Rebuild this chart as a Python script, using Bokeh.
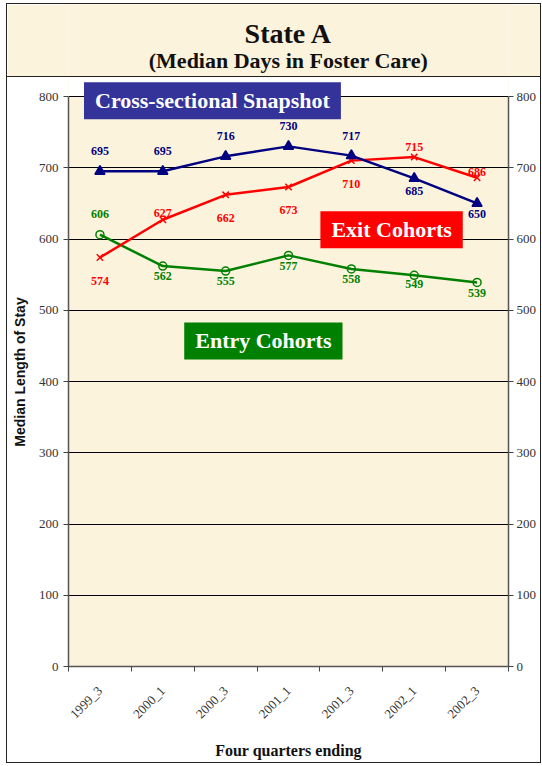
from bokeh.plotting import figure
from bokeh.layouts import column
from bokeh.models import Range1d, FixedTicker, LinearAxis, Label, ColumnDataSource, BoxAnnotation
from bokeh.core.properties import value
from bokeh.embed import file_html
from bokeh.resources import INLINE

# ---------------- data ----------------
quarters = ["1999_3", "2000_1", "2000_3", "2001_1", "2001_3", "2002_1", "2002_3"]
cross_sectional = [695, 695, 716, 730, 717, 685, 650]
exit_cohorts = [574, 627, 662, 673, 710, 715, 686]
entry_cohorts = [606, 562, 555, 577, 558, 549, 539]
y_ticks = [0, 100, 200, 300, 400, 500, 600, 700, 800]
y_max = 800

# label placement (pixels, positive = below the point)
cross_off = [-20, -20, -20, -20, -20, 13, 11]
exit_off = [23, -7, 23, 23, 23, -10, -6]
entry_off = [-21, 10, 10, 11, 10, 9, 11]

PARCH = "#FCF3DC"
SERIF = "Liberation Serif"

xs = [i + 0.5 for i in range(len(quarters))]

# ---------------- title panel ----------------
tfig = figure(width=535, height=74, x_range=Range1d(0, 1), y_range=Range1d(0, 74),
              toolbar_location=None, output_backend="svg", min_border=0,
              x_axis_location=None, y_axis_location=None)
tfig.grid.visible = False
tfig.background_fill_color = PARCH
tfig.border_fill_color = PARCH
tfig.outline_line_color = None
tfig.styles = {"border": "1px solid #222"}
tfig.text(x=[0.5], y=[45], text=["State A"], text_font=value(SERIF), text_font_style="bold",
          text_font_size="28px", text_align="center", text_baseline="middle", text_color="#111")
tfig.text(x=[0.5], y=[18], text=["(Median Days in Foster Care)"], text_font=value(SERIF),
          text_font_style="bold", text_font_size="22px", text_align="center",
          text_baseline="middle", text_color="#111")

# ---------------- main chart ----------------
# frame spans 570 px for 0..800; extend the top a little so the snapshot box is not clipped
FRAME_H = 589
y_top = y_max * FRAME_H / 570.0
p = figure(width=535, height=686, x_range=Range1d(0, len(quarters)), y_range=Range1d(0, y_top),
           toolbar_location=None, output_backend="svg",
           min_border_left=61, min_border_right=34, min_border_top=0, min_border_bottom=97)
p.background_fill_color = PARCH
p.border_fill_color = "white"
p.outline_line_color = None
p.styles = {"border-left": "1px solid #222", "border-right": "1px solid #222",
            "border-bottom": "1px solid #222"}
p.add_layout(BoxAnnotation(bottom=y_max, fill_color="white", fill_alpha=1.0,
                           line_color=None, level="image"))

yt = FixedTicker(ticks=y_ticks)
p.yaxis.ticker = yt
p.ygrid.ticker = yt
p.ygrid.grid_line_color = "black"
p.ygrid.grid_line_width = 1
p.xgrid.visible = False

xt = FixedTicker(ticks=xs, minor_ticks=list(range(len(quarters) + 1)))
p.xaxis.ticker = xt
p.xaxis.major_label_overrides = {x: q for x, q in zip(xs, quarters)}
p.xaxis.major_tick_line_color = None
p.xaxis.minor_tick_line_color = "#444"
p.xaxis.minor_tick_in = 0
p.xaxis.minor_tick_out = 5
p.xaxis.major_label_orientation = 0.785398
p.xaxis.major_label_standoff = 16
p.xaxis.major_label_text_font = SERIF
p.xaxis.major_label_text_font_size = "13px"
p.xaxis.major_label_text_color = "#333"
p.xaxis.axis_label = "Four quarters ending"
p.xaxis.axis_label_text_font = SERIF
p.xaxis.axis_label_text_font_style = "bold"
p.xaxis.axis_label_text_font_size = "16px"
p.xaxis.axis_label_text_color = "#111"
p.xaxis.axis_label_standoff = 12

p.yaxis.axis_label = "Median Length of Stay"
p.yaxis.axis_label_text_font = "Liberation Sans"
p.yaxis.axis_label_text_font_style = "bold"
p.yaxis.axis_label_text_font_size = "14px"
p.yaxis.axis_label_text_color = "#111"
p.yaxis.axis_label_standoff = 8

ra = LinearAxis(ticker=yt)
p.add_layout(ra, "right")

for ax in [p.yaxis[0], ra]:
    ax.bounds = (0, y_max)
    ax.major_label_text_font = SERIF
    ax.major_label_text_font_size = "13px"
    ax.major_label_text_color = "#333"
    ax.minor_tick_line_color = None
    ax.major_tick_in = 0
    ax.major_tick_out = 5
    ax.major_tick_line_color = "#444"
    ax.axis_line_color = "#555"
    ax.axis_line_width = 1.5
ra.major_label_standoff = 3
p.xaxis.axis_line_color = "#555"
p.xaxis.axis_line_width = 1.5

NAVY, RED, GREEN = "#000080", "#FF0000", "#008000"

def series(vals, offs, color, marker, fill, size):
    src = ColumnDataSource(dict(x=xs, y=vals, t=[str(v) for v in vals], off=offs))
    p.line("x", "y", source=src, line_color=color, line_width=2.5)
    p.scatter("x", "y", source=src, marker=marker, size=size, line_color=color,
              fill_color=fill, line_width=1.5)
    p.text("x", "y", text="t", y_offset="off", source=src, text_color=color,
           text_font=value(SERIF), text_font_style="bold", text_font_size="12px",
           text_align="center", text_baseline="middle")

series(entry_cohorts, entry_off, GREEN, "circle", None, 8)
series(exit_cohorts, exit_off, RED, "x", None, 9)
series(cross_sectional, cross_off, NAVY, "triangle", NAVY, 10)

def box(x, y, txt, bg):
    p.add_layout(Label(x=x, y=y, text=txt, text_color="white", text_font=SERIF,
                       text_font_style="bold", text_font_size="22px",
                       text_align="center", text_baseline="middle",
                       background_fill_color=bg, padding=dict(x=11, y=6)))

box(2.29, 794, "Cross-sectional Snapshot", "#333399")
box(5.14, 613, "Exit Cohorts", "#FF0000")
box(3.1, 457, "Entry Cohorts", "#008000")

layout = column(tfig, p, spacing=0, margin=(3, 0, 0, 6))
open("out.html", "w").write(file_html(layout, INLINE))
